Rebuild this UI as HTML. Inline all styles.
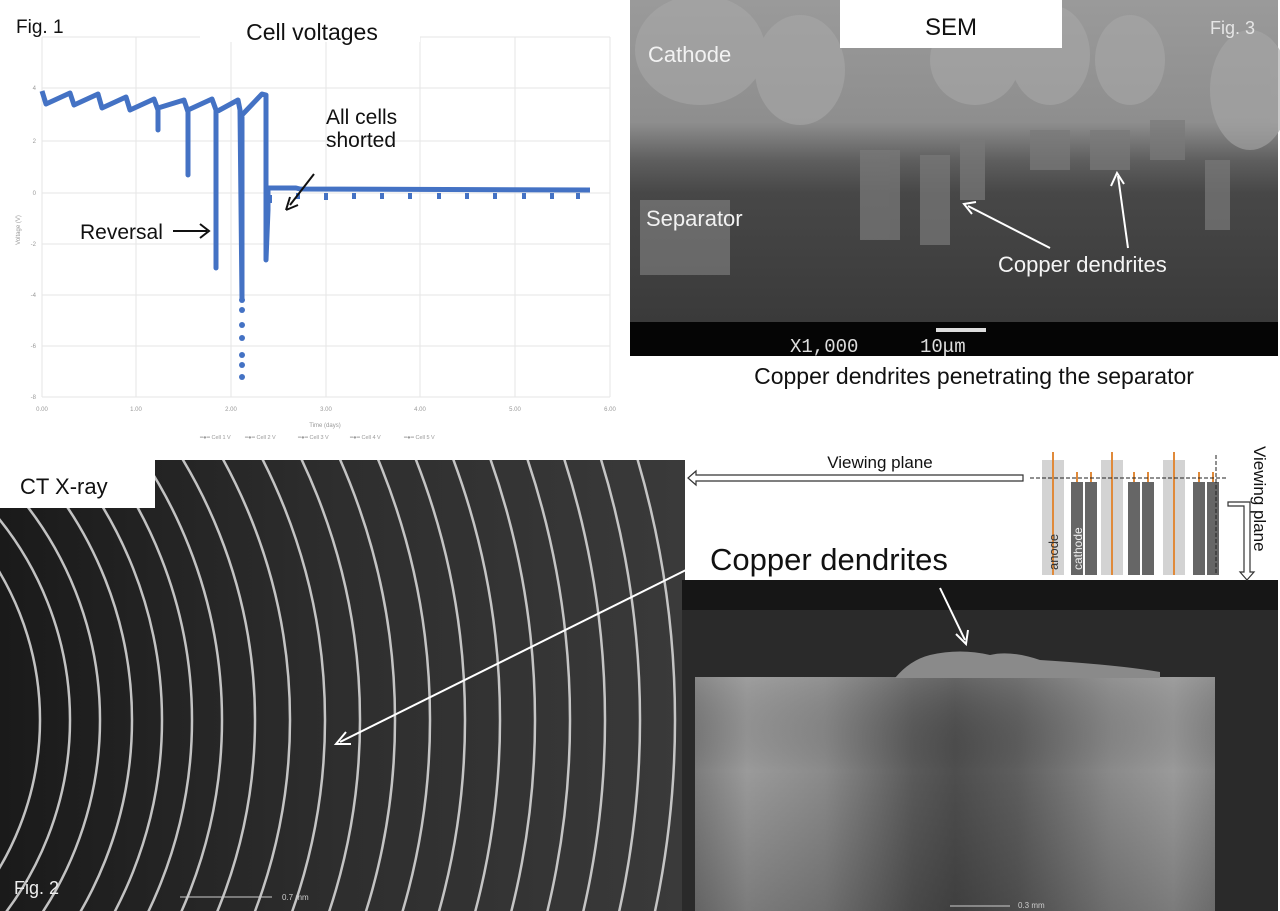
<!DOCTYPE html>
<html><head><meta charset="utf-8"><style>
html,body{margin:0;padding:0;background:#fff;width:1280px;height:911px;overflow:hidden;}
svg{display:block;font-family:"Liberation Sans",Arial,sans-serif;}
</style></head><body>
<svg width="1280" height="911" viewBox="0 0 1280 911" xmlns="http://www.w3.org/2000/svg">
<defs>
<linearGradient id="sem" x1="0" y1="0" x2="0" y2="1">
<stop offset="0" stop-color="#9a9a9a"/><stop offset="0.38" stop-color="#8e8e8e"/>
<stop offset="0.5" stop-color="#5e5e5e"/><stop offset="0.6" stop-color="#474747"/>
<stop offset="1" stop-color="#3a3a3a"/></linearGradient>
<linearGradient id="ctbg" x1="0" y1="0" x2="1" y2="0">
<stop offset="0" stop-color="#1a1a1a"/><stop offset="0.5" stop-color="#2e2e2e"/><stop offset="1" stop-color="#3a3a3a"/></linearGradient>
<linearGradient id="blk" x1="0" y1="0" x2="1" y2="0">
<stop offset="0" stop-color="#7c7c7c"/><stop offset="0.1" stop-color="#9a9a9a"/><stop offset="0.25" stop-color="#8a8a8a"/>
<stop offset="0.42" stop-color="#5a5a5a"/><stop offset="0.5" stop-color="#4e4e4e"/><stop offset="0.62" stop-color="#5e5e5e"/><stop offset="0.8" stop-color="#8a8a8a"/><stop offset="0.92" stop-color="#9a9a9a"/><stop offset="1" stop-color="#858585"/></linearGradient>
<linearGradient id="blkv" x1="0" y1="0" x2="0" y2="1">
<stop offset="0" stop-color="#aaa" stop-opacity="0.25"/><stop offset="0.4" stop-color="#000" stop-opacity="0"/><stop offset="1" stop-color="#000" stop-opacity="0.2"/></linearGradient>
<clipPath id="ctc"><rect x="0" y="460" width="685" height="451"/></clipPath>
</defs>

<rect x="0" y="0" width="628" height="456" fill="#fff"/>
<g stroke="#e6e6e6" stroke-width="1">
<line x1="42" y1="37" x2="610" y2="37"/><line x1="42" y1="88" x2="610" y2="88"/><line x1="42" y1="141" x2="610" y2="141"/>
<line x1="42" y1="193" x2="610" y2="193"/><line x1="42" y1="244" x2="610" y2="244"/><line x1="42" y1="295" x2="610" y2="295"/>
<line x1="42" y1="346" x2="610" y2="346"/><line x1="42" y1="397" x2="610" y2="397"/>
<line x1="42" y1="37" x2="42" y2="397"/><line x1="136" y1="37" x2="136" y2="397"/><line x1="231" y1="37" x2="231" y2="397"/>
<line x1="326" y1="37" x2="326" y2="397"/><line x1="420" y1="37" x2="420" y2="397"/><line x1="515" y1="37" x2="515" y2="397"/><line x1="610" y1="37" x2="610" y2="397"/>
</g>
<g font-size="6" fill="#999" text-anchor="end">
<text x="36" y="90">4</text><text x="36" y="143">2</text><text x="36" y="195">0</text><text x="36" y="246">-2</text>
<text x="36" y="297">-4</text><text x="36" y="348">-6</text><text x="36" y="399">-8</text></g>
<g font-size="6" fill="#999" text-anchor="middle">
<text x="42" y="411">0.00</text><text x="136" y="411">1.00</text><text x="231" y="411">2.00</text><text x="326" y="411">3.00</text>
<text x="420" y="411">4.00</text><text x="515" y="411">5.00</text><text x="610" y="411">6.00</text>
<text x="325" y="427">Time (days)</text>
<text x="20" y="230" transform="rotate(-90 20 230)">Voltage (V)</text></g>
<g font-size="5.5" fill="#999"><text x="200" y="439">━●━ Cell 1 V</text><text x="245" y="439">━●━ Cell 2 V</text><text x="298" y="439">━●━ Cell 3 V</text><text x="350" y="439">━●━ Cell 4 V</text><text x="404" y="439">━●━ Cell 5 V</text></g>
<g fill="none" stroke="#4472c4" stroke-width="5" stroke-linejoin="round">
<path d="M42,91 L46,104 L70,93 L74,105 L98,94 L102,108 L126,97 L130,110 L154,99 L158,110 L158,130 L158,108 L184,100 L188,112 L188,175 L188,110 L212,99 L216,110 L216,268 L216,112 L238,100 L240,110 L242,300 L242,115 L262,94 L266,95 L266,185 L266,260 L268,210 L268,188 L290,188 L296,188 L300,189 L590,190"/>
</g>
<g fill="#4472c4"><circle cx="242" cy="300" r="3"/><circle cx="242" cy="310" r="3"/><circle cx="242" cy="325" r="3"/><circle cx="242" cy="338" r="3"/><circle cx="242" cy="355" r="3"/><circle cx="242" cy="365" r="3"/><circle cx="242" cy="377" r="3"/></g>
<g fill="none" stroke="#4472c4" stroke-width="4">
<path d="M270,195 v8 M298,193 v6 M326,193 v7 M354,193 v6 M382,193 v6 M410,193 v6 M439,193 v6 M467,193 v6 M495,193 v6 M524,193 v6 M552,193 v6 M578,193 v6"/></g>
<rect x="200" y="12" width="220" height="30" fill="#fff"/>
<text x="312" y="40" font-size="23" text-anchor="middle" fill="#111">Cell voltages</text>
<text x="16" y="33" font-size="19" fill="#111">Fig. 1</text>
<text x="326" y="124" font-size="21" fill="#111">All cells</text>
<text x="326" y="147" font-size="21" fill="#111">shorted</text>
<line x1="314" y1="174" x2="290" y2="205" stroke="#111" stroke-width="2"/>
<path d="M286,210 L290,197 M286,210 L298,205" stroke="#111" stroke-width="2" fill="none"/>
<text x="80" y="239" font-size="21" fill="#111">Reversal</text>
<line x1="173" y1="231" x2="207" y2="231" stroke="#111" stroke-width="2"/>
<path d="M200,224 L209,231 L200,238" stroke="#111" stroke-width="2" fill="none"/>

<rect x="630" y="0" width="648" height="322" fill="url(#sem)"/>
<g fill="#a8a8a8" opacity="0.6">
<ellipse cx="700" cy="50" rx="65" ry="55"/><ellipse cx="800" cy="70" rx="45" ry="55"/><ellipse cx="975" cy="60" rx="45" ry="45"/>
<ellipse cx="1050" cy="55" rx="40" ry="50"/><ellipse cx="1130" cy="60" rx="35" ry="45"/><ellipse cx="1250" cy="90" rx="40" ry="60"/></g>
<g fill="#7a7a7a" opacity="0.7">
<rect x="860" y="150" width="40" height="90"/><rect x="920" y="155" width="30" height="90"/><rect x="960" y="140" width="25" height="60"/>
<rect x="1030" y="130" width="40" height="40"/><rect x="1090" y="130" width="40" height="40"/><rect x="1150" y="120" width="35" height="40"/>
<rect x="1205" y="160" width="25" height="70"/><rect x="640" y="200" width="90" height="75"/></g>
<rect x="630" y="322" width="648" height="34" fill="#050505"/>
<text x="790" y="352" font-size="19" fill="#ddd" font-family="Liberation Mono,monospace">X1,000</text>
<text x="920" y="352" font-size="19" fill="#ddd" font-family="Liberation Mono,monospace">10μm</text>
<rect x="936" y="328" width="50" height="4" fill="#ddd"/>
<rect x="840" y="0" width="222" height="48" fill="#fff"/>
<text x="951" y="35" font-size="24" text-anchor="middle" fill="#111">SEM</text>
<text x="1210" y="34" font-size="18" fill="#e5e5e5">Fig. 3</text>
<text x="648" y="62" font-size="22" fill="#f2f2f2">Cathode</text>
<text x="646" y="226" font-size="22" fill="#f2f2f2">Separator</text>
<text x="998" y="272" font-size="22" fill="#f5f5f5">Copper dendrites</text>
<line x1="1050" y1="248" x2="968" y2="206" stroke="#fff" stroke-width="2"/>
<path d="M976,202 L964,204 L972,214" stroke="#fff" stroke-width="2" fill="none"/>
<line x1="1128" y1="248" x2="1118" y2="176" stroke="#fff" stroke-width="2"/>
<path d="M1111,186 L1117,173 L1124,184" stroke="#fff" stroke-width="2" fill="none"/>
<text x="974" y="384" font-size="23" text-anchor="middle" fill="#111">Copper dendrites penetrating the separator</text>

<g clip-path="url(#ctc)">
<rect x="0" y="460" width="685" height="451" fill="url(#ctbg)"/>
<g fill="none" stroke="#d5d5d5" stroke-width="2.5" opacity="0.9">
<circle cx="-250" cy="720" r="290"/><circle cx="-250" cy="720" r="320"/><circle cx="-250" cy="720" r="350"/><circle cx="-250" cy="720" r="382"/>
<circle cx="-250" cy="720" r="412"/><circle cx="-250" cy="720" r="442"/><circle cx="-250" cy="720" r="472"/><circle cx="-250" cy="720" r="505"/>
<circle cx="-250" cy="720" r="540"/><circle cx="-250" cy="720" r="575"/><circle cx="-250" cy="720" r="610"/><circle cx="-250" cy="720" r="645"/>
<circle cx="-250" cy="720" r="680"/><circle cx="-250" cy="720" r="715"/><circle cx="-250" cy="720" r="750"/><circle cx="-250" cy="720" r="785"/>
<circle cx="-250" cy="720" r="820"/><circle cx="-250" cy="720" r="855"/><circle cx="-250" cy="720" r="890"/><circle cx="-250" cy="720" r="925"/>
</g>
</g>
<rect x="0" y="460" width="155" height="48" fill="#fff"/>
<text x="20" y="494" font-size="22" fill="#111">CT X-ray</text>
<text x="14" y="894" font-size="18" fill="#eee">Fig. 2</text>
<line x1="180" y1="897" x2="272" y2="897" stroke="#ccc" stroke-width="1"/>
<text x="282" y="900" font-size="8" fill="#ccc">0.7 mm</text>
<line x1="690" y1="568" x2="340" y2="742" stroke="#fff" stroke-width="2"/>
<path d="M346,732 L336,744 L351,744" stroke="#fff" stroke-width="2" fill="none"/>

<rect x="682" y="580" width="596" height="331" fill="#2a2a2a"/>
<rect x="682" y="580" width="596" height="30" fill="#161616"/>
<rect x="695" y="677" width="520" height="234" fill="url(#blk)"/>
<rect x="695" y="677" width="520" height="234" fill="url(#blkv)"/>
<path d="M895,678 Q910,660 930,655 Q960,648 990,655 Q1010,650 1040,660 Q1120,665 1160,672 L1160,678 Z" fill="#8a8a8a"/>
<line x1="940" y1="588" x2="965" y2="640" stroke="#fff" stroke-width="2"/>
<path d="M956,634 L966,644 L968,630" stroke="#fff" stroke-width="2" fill="none"/>
<line x1="950" y1="906" x2="1010" y2="906" stroke="#ccc" stroke-width="1"/>
<text x="1018" y="908" font-size="8" fill="#ccc">0.3 mm</text>

<text x="880" y="468" font-size="17" text-anchor="middle" fill="#111">Viewing plane</text>
<path d="M1023,475 L696,475 L696,471 L688,478 L696,485 L696,481 L1023,481 Z" fill="#fff" stroke="#333" stroke-width="1.2"/>
<text x="710" y="570" font-size="31" fill="#111">Copper dendrites</text>
<g fill="#d3d3d3"><rect x="1042" y="460" width="22" height="115"/><rect x="1101" y="460" width="22" height="115"/><rect x="1163" y="460" width="22" height="115"/></g>
<g fill="#666"><rect x="1071" y="482" width="12" height="93"/><rect x="1085" y="482" width="12" height="93"/><rect x="1128" y="482" width="12" height="93"/><rect x="1142" y="482" width="12" height="93"/>
<rect x="1193" y="482" width="12" height="93"/><rect x="1207" y="482" width="12" height="93"/></g>
<g stroke="#e08a3a" stroke-width="2"><line x1="1053" y1="452" x2="1053" y2="575"/><line x1="1112" y1="452" x2="1112" y2="575"/><line x1="1174" y1="452" x2="1174" y2="575"/>
<line x1="1077" y1="472" x2="1077" y2="482"/><line x1="1091" y1="472" x2="1091" y2="482"/><line x1="1134" y1="472" x2="1134" y2="482"/><line x1="1148" y1="472" x2="1148" y2="482"/><line x1="1199" y1="472" x2="1199" y2="482"/><line x1="1213" y1="472" x2="1213" y2="482"/></g>
<line x1="1030" y1="478" x2="1228" y2="478" stroke="#222" stroke-dasharray="4,2" stroke-width="1"/>
<line x1="1216" y1="455" x2="1216" y2="575" stroke="#222" stroke-dasharray="4,2" stroke-width="1"/>
<text x="1058" y="570" font-size="13" fill="#333" transform="rotate(-90 1058 570)">anode</text>
<text x="1082" y="570" font-size="12" fill="#eee" transform="rotate(-90 1082 570)">cathode</text>
<text x="1254" y="446" font-size="17" fill="#111" transform="rotate(90 1254 446)">Viewing plane</text>
<path d="M1228,506 L1244,506 L1244,572 L1240,572 L1247,580 L1254,572 L1250,572 L1250,502 L1228,502 Z" fill="#fff" stroke="#333" stroke-width="1.2"/>
</svg>
</body></html>
